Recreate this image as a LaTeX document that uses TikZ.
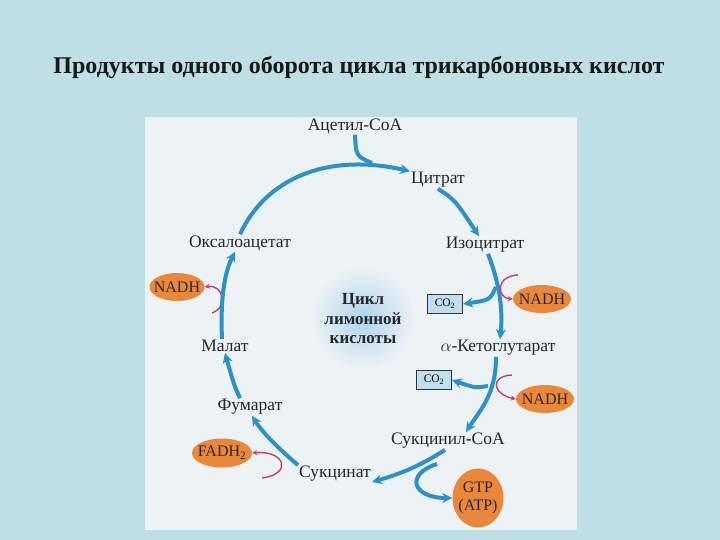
\documentclass[tikz,border=0pt]{standalone}
\usepackage{fontspec}
\setmainfont{Liberation Serif}
\usetikzlibrary{arrows.meta,shapes.geometric}
\definecolor{bgteal}{HTML}{BEE0E4}
\definecolor{panel}{HTML}{EDF2F5}
\definecolor{glowblue}{HTML}{AED4EE}
\definecolor{cycleblue}{HTML}{2C90CC}
\definecolor{sidepink}{HTML}{C73A78}
\definecolor{prodorange}{HTML}{E9883A}
\definecolor{gasfill}{HTML}{BFDFF0}
\tikzset{
  stage/.style={font=\fontsize{17.5}{17.5}\selectfont, text=black!85, inner sep=1pt},
  product/.style={ellipse, fill=prodorange, inner xsep=-9pt, inner ysep=-3pt, font=\fontsize{16}{16}\selectfont, text=black!85},
  gas/.style={draw=black!80, fill=gasfill, line width=1pt, inner sep=1pt, minimum width=35pt, minimum height=19pt, font=\fontsize{11.5}{11.5}\selectfont},
  flow/.style={draw=cycleblue, line width=4pt, -{Stealth[length=10pt,width=10pt]}},
  feed/.style={draw=cycleblue, line width=4pt},
  side/.style={draw=sidepink, line width=1.4pt, -{Stealth[length=5pt,width=5pt]}}
}
\begin{document}
\begin{tikzpicture}[x=1pt,y=-1pt]
  \useasboundingbox (0,0) rectangle (720,540);
  \fill[bgteal] (0,0) rectangle (720,540);
  \fill[panel] (145,117) rectangle (577,530);
  \shade[inner color=glowblue, outer color=panel] (363,318) circle (52);

  % Title
  \node at (359,68) [font=\fontsize{24}{24}\selectfont\bfseries, text=black!90] (title) {Продукты одного оборота цикла трикарбоновых кислот};

  % Cycle members
  \node at (355,126) [stage] (acetyl) {Ацетил-CoA};
  \node at (438,180) [stage] (citrate) {Цитрат};
  \node at (485,245) [stage] (isocitrate) {Изоцитрат};
  \node at (498,348) [stage] (ketoglut) {$\alpha$-Кетоглутарат};
  \node at (448,441) [stage] (succoa) {Сукцинил-CoA};
  \node at (335,474) [stage] (succinate) {Сукцинат};
  \node at (250,407) [stage] (fumarate) {Фумарат};
  \node at (225,346) [stage] (malate) {Малат};
  \node at (240,243) [stage] (oxalo) {Оксалоацетат};
  \node at (363,319) [align=center, font=\fontsize{17}{19.5}\selectfont\bfseries, text=black!85] (cycle) {Цикл\\лимонной\\кислоты};

  % Products
  \node at (177,287) [product, minimum width=55pt, minimum height=28pt] (nadhA) {NADH};
  \node at (542,299) [product, minimum width=58pt, minimum height=28pt] (nadhB) {NADH};
  \node at (545,399) [product, minimum width=58pt, minimum height=28pt] (nadhC) {NADH};
  \node at (222,453) [product, minimum width=60pt, minimum height=29pt] (fadh) {FADH\textsubscript{2}};
  \node at (478,498) [product, minimum width=51pt, minimum height=59pt, align=center, font=\fontsize{16}{18}\selectfont] (gtp) {GTP\\(ATP)};
  \node at (445,304) [gas] (co2A) {CO\textsubscript{2}};
  \node at (434,380) [gas] (co2B) {CO\textsubscript{2}};

  % Branch points
  \coordinate (join) at (372,163);
  \coordinate (forkA) at (496,287);
  \coordinate (forkB) at (488,386);
  \coordinate (forkG) at (437,464);
  \coordinate (pinkA) at (518,275);
  \coordinate (pinkB) at (512,375);
  \coordinate (pinkF) at (262,478);
  \coordinate (pinkM) at (212,313);

  % Arrows
  \draw[flow] (oxalo.north) .. controls (265,180) and (325,152) .. (citrate.north west);
  \draw[feed] (acetyl.south) .. controls (356,156) .. (join);
  \draw[flow] (citrate.south) .. controls (455,200) .. ([xshift=-6pt]isocitrate.north);
  \draw[flow] ([xshift=3pt]isocitrate.south) .. controls (500,285) and (503,310) .. ([xshift=2pt]ketoglut.north);
  \draw[flow] (forkA) .. controls (490,300) .. (co2A.east);
  \draw[side] (pinkA) .. controls (495,276) and (497,298) .. (nadhB.west);
  \draw[flow] ([xshift=-2pt]ketoglut.south) .. controls (496,395) and (480,410) .. ([xshift=18pt]succoa.north);
  \draw[flow] (forkB) .. controls (475,388) .. (co2B.east);
  \draw[side] (pinkB) .. controls (490,376) and (492,394) .. (nadhC.west);
  \draw[flow] ([xshift=-3pt]succoa.south) .. controls (420,466) and (400,474) .. ([yshift=-8pt]succinate.east);
  \draw[flow] (forkG) .. controls (405,474) and (412,498) .. (gtp.west);
  \draw[flow] (succinate.north west) .. controls (280,450) and (262,432) .. ([xshift=2pt]fumarate.south);
  \draw[side] (pinkF) .. controls (293,474) and (285,450) .. (fadh.east);
  \draw[flow] ([xshift=-10pt]fumarate.north) .. controls (234,385) .. (malate.south);
  \draw[side] (pinkM) .. controls (230,306) and (222,284) .. (nadhA.east);
  \draw[flow] ([xshift=-3pt]malate.north) .. controls (220,292) and (226,270) .. ([xshift=-5pt]oxalo.south);
\end{tikzpicture}
\end{document}
